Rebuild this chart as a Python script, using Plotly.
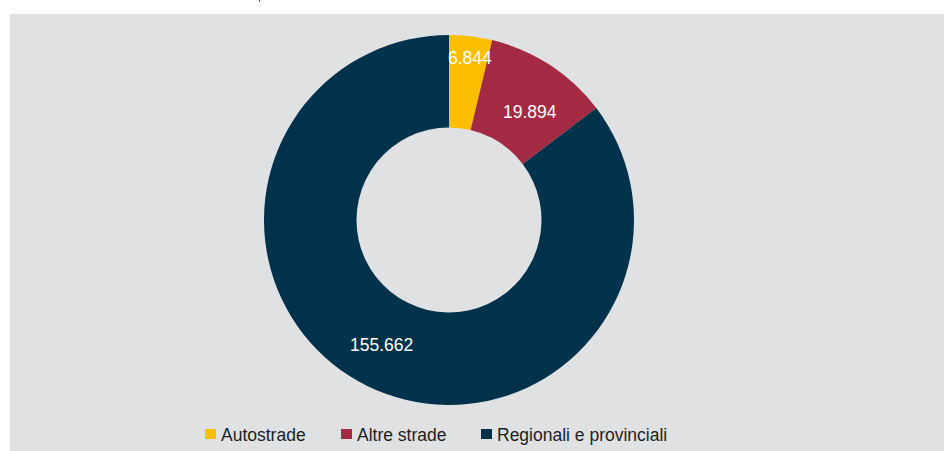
import math
import plotly.graph_objects as go

# Road network length by category
categories = ["Autostrade", "Altre strade", "Regionali e provinciali"]
values = [6844, 19894, 155662]
value_labels = ["6.844", "19.894", "155.662"]
colors = ["#FDBE00", "#A42A43", "#00324B"]

W, H = 944, 451
BG = "#E0E1E2"
FONT = "Liberation Sans, Arial, sans-serif"
FS = 17.5


def px_x(x):
    return x / W


def px_y(y):
    return 1 - y / H


# donut geometry (pixels)
cx, cy, R = 449, 220, 185

fig = go.Figure()
fig.add_trace(go.Pie(
    labels=categories,
    values=values,
    marker=dict(colors=colors, line=dict(width=0)),
    hole=0.5,
    sort=False,
    direction="clockwise",
    rotation=0,
    textinfo="none",
    hoverinfo="label+value",
    showlegend=False,
    domain=dict(x=[px_x(cx - R), px_x(cx + R)], y=[px_y(cy + R), px_y(cy - R)]),
))

# value labels placed along each slice's bisector
label_radius = [0.885, 0.73, 0.767]
angle_nudge = [0.5, 3.5, 1.8]
total = sum(values)
cum = 0
annotations = []
for v, txt, fr, nd in zip(values, value_labels, label_radius, angle_nudge):
    mid = (cum + v / 2) / total * 360 + nd
    cum += v
    a = math.radians(mid)
    x = cx + fr * R * math.sin(a)
    y = cy - fr * R * math.cos(a)
    annotations.append(dict(
        x=px_x(x), y=px_y(y), xref="paper", yref="paper",
        text=txt, showarrow=False, xanchor="center", yanchor="middle",
        font=dict(family=FONT, size=FS, color="white"),
    ))

# chart panel background and a small tick above it
shapes = [
    dict(type="rect", xref="paper", yref="paper",
         x0=px_x(10), x1=1, y0=0, y1=px_y(14),
         fillcolor=BG, line=dict(width=0), layer="below"),
    dict(type="line", xref="paper", yref="paper",
         x0=px_x(259.5), x1=px_x(259.5), y0=px_y(0), y1=px_y(2),
         line=dict(color="#555555", width=1)),
]

# legend: swatch + label
legend_x = [205, 341, 481]
legend_y = 434
for lx, name, col in zip(legend_x, categories, colors):
    shapes.append(dict(type="rect", xref="paper", yref="paper",
                       x0=px_x(lx), x1=px_x(lx + 11),
                       y0=px_y(legend_y + 5), y1=px_y(legend_y - 5),
                       fillcolor=col, line=dict(width=0)))
    annotations.append(dict(
        x=px_x(lx + 14), y=px_y(legend_y + 1), xref="paper", yref="paper",
        text=name, showarrow=False, xanchor="left", yanchor="middle",
        font=dict(family=FONT, size=FS, color="#1E1E1E"),
    ))

fig.update_layout(
    width=W, height=H,
    margin=dict(l=0, r=0, t=0, b=0),
    paper_bgcolor="white",
    plot_bgcolor="white",
    shapes=shapes,
    annotations=annotations,
)

fig.write_html("out.html")
